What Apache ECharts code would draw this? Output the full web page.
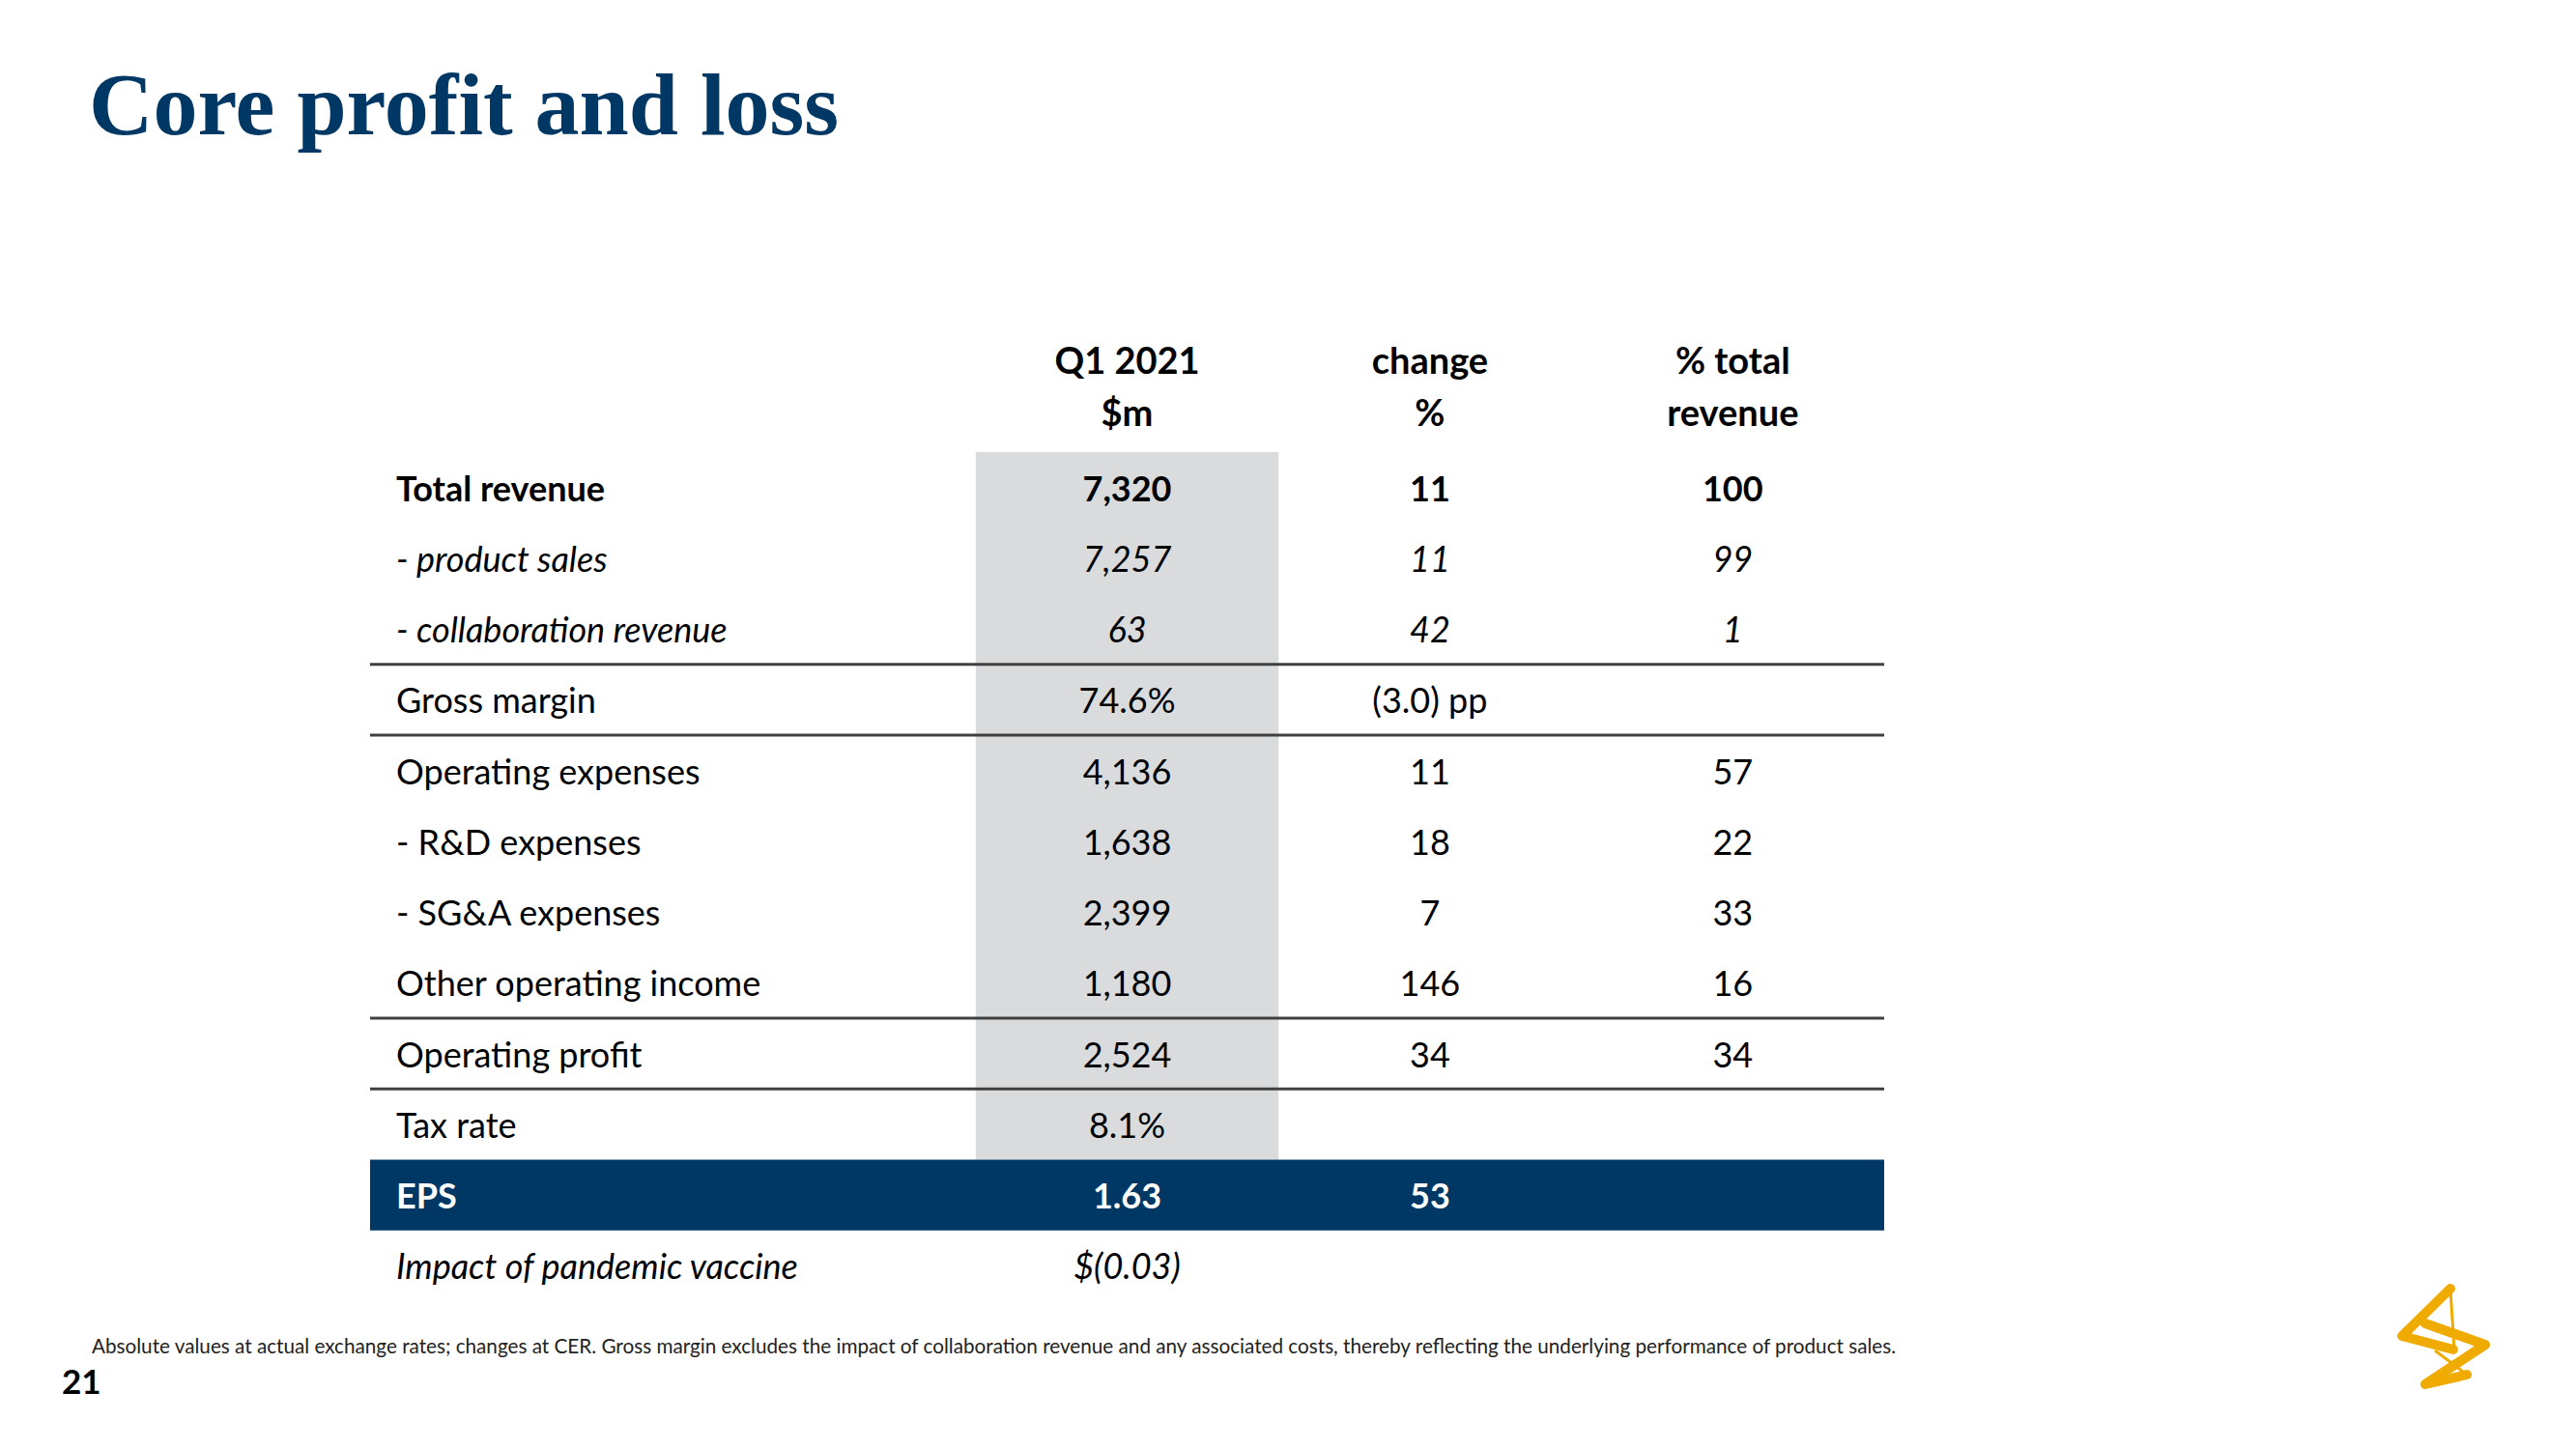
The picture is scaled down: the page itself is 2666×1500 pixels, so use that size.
<!DOCTYPE html>
<html><head><meta charset="utf-8">
<script src="https://cdn.jsdelivr.net/npm/echarts@6/dist/echarts.min.js"></script>
<style>html,body{margin:0;padding:0;background:#fff}#chart{width:2666px;height:1500px}</style>
</head><body><div id="chart"></div>
<script>
// ---- data ----
const titleText = 'Core profit and loss';
const columnHeaders = ['Q1 2021\n$m', 'change\n%', '% total\nrevenue'];
const rowLabels = ['Total revenue', '- product sales', '- collaboration revenue', 'Gross margin',
  'Operating expenses', '- R&D expenses', '- SG&A expenses', 'Other operating income',
  'Operating profit', 'Tax rate', 'EPS', 'Impact of pandemic vaccine'];
const q1Values = ['7,320', '7,257', '63', '74.6%', '4,136', '1,638', '2,399', '1,180', '2,524', '8.1%', '1.63', '$(0.03)'];
const changeValues = ['11', '11', '42', '(3.0) pp', '11', '18', '7', '146', '34', '', '53', ''];
const pctTotalValues = ['100', '99', '1', '', '57', '22', '33', '16', '34', '', '', ''];
const footnote = 'Absolute values at actual exchange rates; changes at CER. Gross margin excludes the impact of collaboration revenue and any associated costs, thereby reflecting the underlying performance of product sales.';
const pageNumber = '21';

// ---- styling ----
const NAVY = '#003865', GRAY = '#d9dbdd', RULE = '#404040', GOLD = '#f0ab00';
const FONT = 'Lato, "Noto Sans", sans-serif';
const boldRows = [0, 10], italicRows = [1, 2, 11], highlightRow = 10;
const shadedRange = [0, 9], ruleAfterRows = [2, 3, 7, 8];
const LABEL_PAD = 27;

const xCats = ['label', 'label2'].concat(columnHeaders);
const valueCols = [q1Values, changeValues, pctTotalValues];
const cells = [];
rowLabels.forEach((lab, i) => {
  cells.push({ col: 0, row: i, text: lab });
  valueCols.forEach((arr, k) => { if (arr[i] !== '') cells.push({ col: 2 + k, row: i, text: arr[i] }); });
});

const chart = echarts.init(document.getElementById('chart'), null, { renderer: 'svg' });
chart.setOption({
  animation: false,
  backgroundColor: '#fff',
  title: [
    { text: titleText, left: 92, top: 62, padding: 0,
      textStyle: { fontFamily: '"Liberation Serif", serif', fontWeight: 'bold', fontSize: 92, color: NAVY } },
    { text: footnote, left: 95, top: 1382, padding: 0,
      textStyle: { fontFamily: FONT, fontSize: 20.7, fontWeight: 'normal', color: '#222' } },
    { text: pageNumber, left: 64, top: 1411, padding: 0,
      textStyle: { fontFamily: FONT, fontSize: 35, fontWeight: 'bold', color: '#000' } }
  ],
  grid: { left: 383, top: 468, width: 1567, height: 879 },
  xAxis: {
    type: 'category', data: xCats, position: 'top',
    axisLine: { show: false }, axisTick: { show: false }, splitLine: { show: false },
    axisLabel: { interval: 0, margin: 15, fontFamily: FONT, fontSize: 38, fontWeight: 'bold', lineHeight: 54, color: '#000',
      formatter: (v, i) => (i < 2 ? '' : v) }
  },
  yAxis: { type: 'category', inverse: true, data: rowLabels, show: false },
  series: [
    { type: 'custom', z: 1, data: [[2, shadedRange[0]]], encode: { x: 0, y: 1 },
      renderItem: (params, api) => {
        const sz = api.size([1, 1]);
        const a = api.coord([2, shadedRange[0]]), b = api.coord([2, shadedRange[1]]);
        return { type: 'rect', shape: { x: a[0] - sz[0] / 2, y: a[1] - sz[1] / 2, width: sz[0], height: b[1] - a[1] + sz[1] },
          style: { fill: GRAY } };
      } },
    { type: 'custom', z: 2, data: [[0, highlightRow]], encode: { x: 0, y: 1 },
      renderItem: (params, api) => {
        const sz = api.size([1, 1]);
        const p = api.coord([0, api.value(1)]);
        const cs = params.coordSys;
        return { type: 'rect', shape: { x: cs.x, y: p[1] - sz[1] / 2, width: cs.width, height: sz[1] }, style: { fill: NAVY } };
      } },
    { type: 'custom', z: 3, data: ruleAfterRows.map(r => [0, r]), encode: { x: 0, y: 1 },
      renderItem: (params, api) => {
        const sz = api.size([1, 1]);
        const p = api.coord([0, api.value(1)]);
        const cs = params.coordSys;
        const y = p[1] + sz[1] / 2;
        return { type: 'line', shape: { x1: cs.x, y1: y, x2: cs.x + cs.width, y2: y }, style: { stroke: RULE, lineWidth: 3 } };
      } },
    { type: 'custom', z: 4, data: cells.map(c => [c.col, c.row]), encode: { x: 0, y: 1 },
      renderItem: (params, api) => {
        const c = cells[params.dataIndex];
        const p = api.coord([c.col, c.row]);
        const sz = api.size([1, 1]);
        const isLabel = c.col === 0;
        return { type: 'text', x: isLabel ? p[0] - sz[0] / 2 + LABEL_PAD : p[0], y: p[1],
          style: { text: c.text, align: isLabel ? 'left' : 'center', verticalAlign: 'middle',
            fontFamily: FONT, fontSize: 36,
            fontWeight: boldRows.includes(c.row) ? 'bold' : 'normal',
            fontStyle: italicRows.includes(c.row) ? 'italic' : 'normal',
            fill: c.row === highlightRow ? '#fff' : '#000' } };
      } }
  ],
  graphic: [
    { type: 'polyline', shape: { points: [[2536, 1334], [2486, 1383], [2539, 1397]] },
      style: { stroke: GOLD, lineWidth: 10, fill: null, lineJoin: 'round', lineCap: 'round' } },
    { type: 'line', shape: { x1: 2536, y1: 1334, x2: 2540, y2: 1397 }, style: { stroke: GOLD, lineWidth: 3 } },
    { type: 'polyline', shape: { points: [[2510, 1370], [2572, 1392], [2510, 1433], [2553, 1423]] },
      style: { stroke: GOLD, lineWidth: 10, fill: null, lineJoin: 'round', lineCap: 'round' } },
    { type: 'line', shape: { x1: 2553, y1: 1423, x2: 2520, y2: 1398 }, style: { stroke: GOLD, lineWidth: 3 } }
  ]
});
</script></body></html>
